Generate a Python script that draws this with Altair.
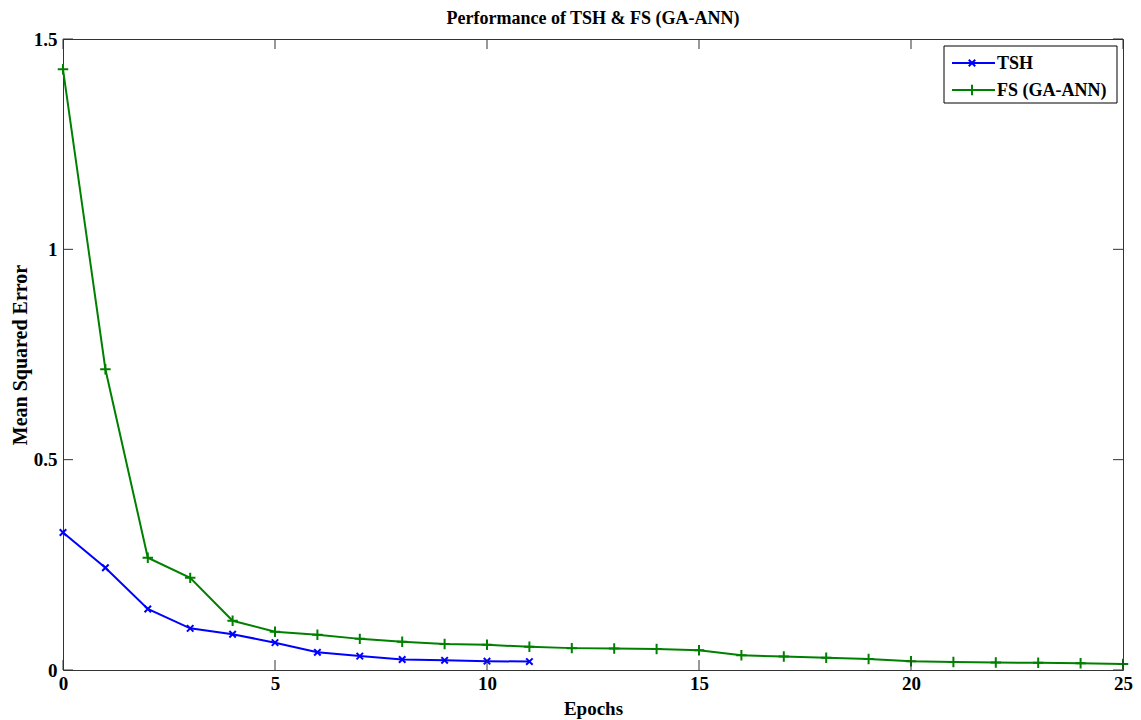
import altair as alt
import pandas as pd

series_names = ["TSH", "FS (GA-ANN)"]
series_colors = ["#0000FF", "#008000"]

epochs_tsh = list(range(12))
mse_tsh = [0.327, 0.243, 0.145, 0.099, 0.085, 0.065, 0.042, 0.033, 0.025, 0.023, 0.021, 0.020]

epochs_fs = list(range(26))
mse_fs = [1.428, 0.715, 0.267, 0.219, 0.117, 0.091, 0.084, 0.074, 0.067, 0.062,
          0.060, 0.055, 0.052, 0.051, 0.050, 0.047, 0.035, 0.032, 0.029, 0.026,
          0.021, 0.019, 0.018, 0.017, 0.016, 0.014]

x_ticks = [0, 5, 10, 15, 20, 25]
y_ticks = [0, 0.5, 1, 1.5]

FONT = "Liberation Serif"
W, H = 1060, 631

df = pd.concat([
    pd.DataFrame({"epoch": epochs_tsh, "mse": mse_tsh, "series": series_names[0]}),
    pd.DataFrame({"epoch": epochs_fs, "mse": mse_fs, "series": series_names[1]}),
])

X_PATH = "M-1,-1L1,1M-1,1L1,-1"
PLUS_PATH = "M-1,0L1,0M0,-1L0,1"

xscale = alt.Scale(domain=[0, 25], nice=False, zero=False)
yscale = alt.Scale(domain=[0, 1.5], nice=False)
color_scale = alt.Scale(domain=series_names, range=series_colors)

x_enc = alt.X("epoch:Q", scale=xscale,
              axis=alt.Axis(values=x_ticks, title="Epochs", grid=False, ticks=False,
                            domain=False, labelPadding=4, titlePadding=6, titleFontSize=19,
                            labelFlush=False))
y_enc = alt.Y("mse:Q", scale=yscale,
              axis=alt.Axis(values=y_ticks, format="~g", title="Mean Squared Error",
                            grid=False, ticks=False, domain=False, labelPadding=6,
                            titlePadding=3, titleFontSize=20, labelFlush=False))

lines = alt.Chart(df).mark_line(strokeWidth=2).encode(
    x=x_enc, y=y_enc,
    color=alt.Color("series:N", scale=color_scale, legend=None),
    detail="series:N",
)

points = alt.Chart(df).mark_point(filled=False, strokeWidth=2, opacity=1).encode(
    x=alt.X("epoch:Q", scale=xscale),
    y=alt.Y("mse:Q", scale=yscale),
    color=alt.Color("series:N", scale=color_scale, legend=None),
    shape=alt.Shape("series:N", scale=alt.Scale(domain=series_names, range=[X_PATH, PLUS_PATH]), legend=None),
    size=alt.Size("series:N", scale=alt.Scale(domain=series_names, range=[42, 110]), legend=None),
)

xt = pd.DataFrame({"t": x_ticks})
yt = pd.DataFrame({"t": y_ticks})
TL = 10
tick_style = dict(color="#333333", strokeWidth=1)
xt_bottom = alt.Chart(xt).mark_rule(**tick_style).encode(
    x=alt.X("t:Q", scale=xscale), y=alt.value(H), y2=alt.value(H - TL))
xt_top = alt.Chart(xt).mark_rule(**tick_style).encode(
    x=alt.X("t:Q", scale=xscale), y=alt.value(0), y2=alt.value(TL))
yt_left = alt.Chart(yt).mark_rule(**tick_style).encode(
    y=alt.Y("t:Q", scale=yscale), x=alt.value(0), x2=alt.value(TL))
yt_right = alt.Chart(yt).mark_rule(**tick_style).encode(
    y=alt.Y("t:Q", scale=yscale), x=alt.value(W), x2=alt.value(W - TL))

one = pd.DataFrame({"a": [0]})
LX = W - 179
legend_box = alt.Chart(one).mark_rect(fill="white", stroke="black", strokeWidth=1).encode(
    x=alt.value(LX), x2=alt.value(LX + 173), y=alt.value(7), y2=alt.value(64))

legend_layers = [legend_box]
row_y = [24, 51]
for name, col, shp, sz, ry in zip(series_names, series_colors, [X_PATH, PLUS_PATH], [42, 110], row_y):
    legend_layers.append(alt.Chart(one).mark_rule(color=col, strokeWidth=2).encode(
        x=alt.value(LX + 8), x2=alt.value(LX + 51), y=alt.value(ry)))
    legend_layers.append(alt.Chart(one).mark_point(shape=shp, color=col, filled=False,
                                                   strokeWidth=2, size=sz, opacity=1).encode(
        x=alt.value(LX + 28), y=alt.value(ry)))
    legend_layers.append(alt.Chart(one).mark_text(align="left", baseline="middle", font=FONT,
                                                  fontWeight="bold", fontSize=18, color="black").encode(
        x=alt.value(LX + 53), y=alt.value(ry + 1), text=alt.value(name)))

chart = alt.layer(
    lines, points, xt_bottom, xt_top, yt_left, yt_right, *legend_layers
).properties(
    width=W, height=H,
    title=alt.TitleParams("Performance of TSH & FS (GA-ANN)", font=FONT, fontSize=18,
                          fontWeight="bold", color="black", anchor="middle", offset=2),
    autosize=alt.AutoSizeParams(type="none"),
    padding={"left": 55, "top": 31, "right": 10, "bottom": 52},
).configure_view(
    stroke="#333333", strokeWidth=1
).configure_axis(
    labelFont=FONT, labelFontSize=19, labelFontWeight="bold", labelColor="black",
    titleFont=FONT, titleFontWeight="bold", titleColor="black",
)

chart.save("out.html", embed_options={"renderer": "svg", "actions": False})
